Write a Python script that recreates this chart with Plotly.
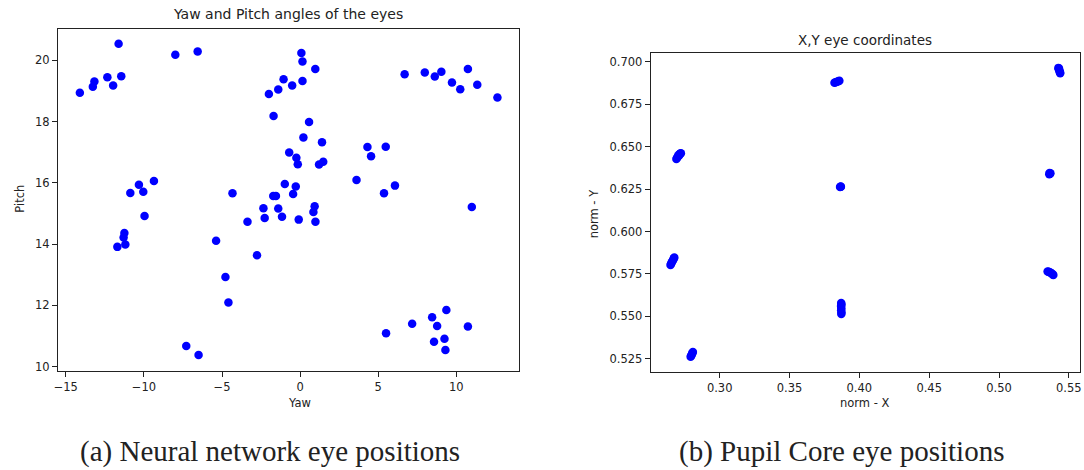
import plotly.graph_objects as go

# Neural network estimates: yaw / pitch in degrees
yaw = [
    -14.1, -13.27, -13.17, -12.34, -11.97, -11.62, -11.45,
    -7.99, -6.56,
    -2.0, -1.4, -1.06, -0.51, 0.15, 0.08, 0.15, 0.97,
    -1.7, 0.57, 0.21, 1.4, -0.7, -0.24, -0.15, 1.21, 1.48,
    4.31, 5.48, 4.54, 3.61, 5.37, 6.07,
    6.69, 7.98, 8.62, 9.04, 9.72, 10.25, 10.74, 11.34, 12.63,
    10.99,
    -0.98, -0.28, -0.45, -1.72, -1.55, 0.93, 0.85, -2.35, -1.4, -1.16,
    -0.09, 0.98, -2.27, -3.37, -4.33, -2.76, -5.38, -4.78, -4.59, -7.29, -6.5,
    -10.87, -10.32, -10.04, -9.36, -9.96, -11.25, -11.3, -11.19, -11.7,
    5.5, 7.17, 8.45, 9.36, 8.77, 10.74, 8.57, 9.24, 9.3,
]
pitch = [
    18.94, 19.14, 19.31, 19.45, 19.18, 20.54, 19.48,
    20.18, 20.29,
    18.9, 19.05, 19.38, 19.18, 19.33, 20.24, 19.96, 19.72,
    18.18, 17.99, 17.48, 17.33, 16.99, 16.82, 16.61, 16.6, 16.69,
    17.17, 17.18, 16.87, 16.09, 15.66, 15.91,
    19.55, 19.6, 19.47, 19.63, 19.28, 19.06, 19.72, 19.2, 18.79,
    15.21,
    15.96, 15.88, 15.64, 15.57, 15.57, 15.24, 15.05, 15.17, 15.16, 14.89,
    14.8, 14.73, 14.85, 14.73, 15.66, 13.64, 14.11, 12.93, 12.09, 10.67, 10.38,
    15.67, 15.94, 15.71, 16.06, 14.92, 14.36, 14.22, 13.99, 13.91,
    11.09, 11.4, 11.61, 11.85, 11.33, 11.31, 10.81, 10.91, 10.54,
]

# Pupil Core normalised gaze positions
norm_x = [
    0.2690, 0.2695, 0.2700, 0.2705, 0.2712, 0.2718, 0.2722, 0.2708,
    0.2648, 0.2652, 0.2657, 0.2662, 0.2667, 0.2672, 0.2675,
    0.2792, 0.2796, 0.2800, 0.2804, 0.2808,
    0.3822, 0.3830, 0.3840, 0.3850, 0.3857,
    0.3862, 0.3866, 0.3868,
    0.3870, 0.3872, 0.3869, 0.3871, 0.3870, 0.3872, 0.3871,
    0.5425, 0.5428, 0.5432, 0.5435, 0.5438, 0.5430, 0.5437,
    0.5360, 0.5365, 0.5368, 0.5362,
    0.5348, 0.5355, 0.5362, 0.5370, 0.5378, 0.5385, 0.5389,
]
norm_y = [
    0.6428, 0.6435, 0.6442, 0.6450, 0.6455, 0.6460, 0.6462, 0.6447,
    0.5802, 0.5810, 0.5818, 0.5826, 0.5834, 0.5842, 0.5846,
    0.5262, 0.5268, 0.5275, 0.5282, 0.5289,
    0.6877, 0.6880, 0.6883, 0.6886, 0.6889,
    0.6262, 0.6266, 0.6264,
    0.5578, 0.5570, 0.5560, 0.5548, 0.5535, 0.5522, 0.5513,
    0.6965, 0.6958, 0.6950, 0.6942, 0.6934, 0.6961, 0.6938,
    0.6338, 0.6341, 0.6343, 0.6345,
    0.5764, 0.5763, 0.5760, 0.5757, 0.5752, 0.5747, 0.5744,
]

left_ticks_x = [-15, -10, -5, 0, 5, 10]
left_ticks_y = [10, 12, 14, 16, 18, 20]
right_ticks_x = [0.30, 0.35, 0.40, 0.45, 0.50, 0.55]
right_ticks_y = [0.525, 0.550, 0.575, 0.600, 0.625, 0.650, 0.675, 0.700]

W, H = 1084, 470
SANS = "DejaVu Sans"
SERIF = "Liberation Serif"
INK = "#222222"
BLUE = "#0000ff"

fig = go.Figure()
fig.add_trace(go.Scatter(x=yaw, y=pitch, mode="markers", xaxis="x", yaxis="y",
                         marker=dict(color=BLUE, size=8.5, line=dict(width=0)),
                         showlegend=False, hoverinfo="x+y"))
fig.add_trace(go.Scatter(x=norm_x, y=norm_y, mode="markers", xaxis="x2", yaxis="y2",
                         marker=dict(color=BLUE, size=8.5, line=dict(width=0)),
                         showlegend=False, hoverinfo="x+y"))

axis_common = dict(showline=True, mirror=True, linecolor=INK, linewidth=1,
                   ticks="outside", ticklen=5, tickwidth=1, tickcolor=INK,
                   showgrid=False, zeroline=False,
                   tickfont=dict(family=SANS, size=11.5, color=INK))


def px_x(p):
    return p / W


def px_y(p):
    return 1 - p / H


fig.update_layout(
    width=W, height=H,
    margin=dict(l=0, r=0, t=0, b=0),
    paper_bgcolor="white", plot_bgcolor="white",
    xaxis=dict(axis_common, domain=[px_x(54.3), px_x(517.7)], range=[-15.5, 14.0],
               tickvals=left_ticks_x, ticktext=["\u221215", "\u221210", "\u22125", "0", "5", "10"],
               anchor="y"),
    yaxis=dict(axis_common, domain=[px_y(373.3), px_y(29)], range=[9.86, 21.03],
               tickvals=left_ticks_y, anchor="x"),
    xaxis2=dict(axis_common, domain=[px_x(650.3), px_x(1082)], range=[0.2506, 0.558],
                tickvals=right_ticks_x, ticktext=[f"{v:.2f}" for v in right_ticks_x],
                anchor="y2"),
    yaxis2=dict(axis_common, domain=[px_y(374.3), px_y(53.3)], range=[0.5172, 0.7053],
                tickvals=right_ticks_y, ticktext=[f"{v:.3f}" for v in right_ticks_y],
                anchor="x2"),
)


def label(text, x, y, size=11.5, family=SANS, angle=0):
    fig.add_annotation(text=text, x=px_x(x), y=px_y(y), xref="paper", yref="paper",
                       showarrow=False, xanchor="center", yanchor="middle",
                       textangle=angle, font=dict(family=family, size=size, color=INK))


label("Yaw and Pitch angles of the eyes", 286, 14, size=14)
label("X,Y eye coordinates", 866, 40, size=13.5)
label("Yaw", 297, 406)
label("Pitch", 16, 200, angle=-90)
label("norm - X", 866, 406)
label("norm - Y", 593, 215, angle=-90)
label("(a) Neural network eye positions", 267, 454, size=29, family=SERIF)
label("(b) Pupil Core eye positions", 842, 454, size=29, family=SERIF)

fig.write_html("out.html")
